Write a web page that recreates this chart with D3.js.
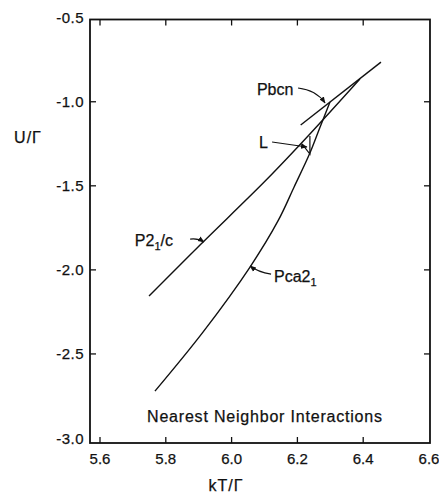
<!DOCTYPE html>
<html>
<head>
<meta charset="utf-8">
<script src="https://cdn.jsdelivr.net/npm/d3@7"></script>
<style>
  body { margin: 0; background: #fff; }
  svg { display: block; }
  .lbl { font-family: "Liberation Sans", Arial, sans-serif; fill: #111; stroke: #111; stroke-width: 0.25px; }
</style>
</head>
<body>
<div id="chart"></div>
<script>
// data: kT/Gamma vs U/Gamma
var xTicks = [5.6, 5.8, 6.0, 6.2, 6.4, 6.6];
var yTicks = [-0.5, -1.0, -1.5, -2.0, -2.5, -3.0];

var p21cT = [5.749, 5.904, 6.105, 6.238, 6.390];
var p21cU = [-2.156, -1.852, -1.466, -1.192, -0.865];

var pca21T = [5.767, 5.913, 6.056, 6.141, 6.190, 6.238, 6.269, 6.299];
var pca21U = [-2.721, -2.370, -1.983, -1.709, -1.507, -1.305, -1.150, -1.002];

var pbcnT = [6.210, 6.454];
var pbcnU = [-1.138, -0.764];

var liqT = [6.214, 6.238, 6.238];
var liqU = [-1.251, -1.311, -1.204];

function zipSeries(ts, us) {
    return ts.map(function (t, i) { return [t, us[i]]; });
}

var width = 439, height = 496;

var svg = d3.select("#chart").append("svg")
    .attr("width", width)
    .attr("height", height);

var x = d3.scaleLinear().domain([5.6, 6.6]).range([100, 429]);
var y = d3.scaleLinear().domain([-3.0, -0.5]).range([438, 17.7]);

// frame a bit bigger than the tick range, like the original plot
var frame = {left: x(5.5696), right: x(6.603), top: 19.5, bottom: 443};

svg.append("defs").append("marker")
    .attr("id", "arrow")
    .attr("viewBox", "0 0 10 10")
    .attr("refX", 9).attr("refY", 5)
    .attr("markerWidth", 6).attr("markerHeight", 6)
    .attr("orient", "auto")
    .append("path")
    .attr("d", "M0,1 L10,5 L0,9 z")
    .attr("fill", "#111");

svg.append("rect")
    .attr("x", frame.left).attr("y", frame.top)
    .attr("width", frame.right - frame.left)
    .attr("height", frame.bottom - frame.top)
    .attr("fill", "none")
    .attr("stroke", "#111")
    .attr("stroke-width", 1.8);

//axes: ticks pointing inward on all four sides
var tickLen = 6;
var g = svg.append("g").attr("stroke", "#111").attr("stroke-width", 1.3);

xTicks.slice(0, -1).forEach(function (t) {
    g.append("line").attr("x1", x(t)).attr("x2", x(t))
        .attr("y1", frame.bottom).attr("y2", frame.bottom - tickLen);
    g.append("line").attr("x1", x(t)).attr("x2", x(t))
        .attr("y1", frame.top).attr("y2", frame.top + tickLen);
});
yTicks.slice(1, -1).forEach(function (u) {
    g.append("line").attr("x1", frame.left).attr("x2", frame.left + tickLen)
        .attr("y1", y(u)).attr("y2", y(u));
    g.append("line").attr("x1", frame.right).attr("x2", frame.right - tickLen)
        .attr("y1", y(u)).attr("y2", y(u));
});

svg.selectAll(".xlab").data(xTicks).enter()
    .append("text")
    .attr("class", "lbl")
    .attr("x", function (d) { return x(d); })
    .attr("y", 464)
    .attr("text-anchor", "middle")
    .style("font-size", "15px")
    .text(function (d) { return d.toFixed(1); });

svg.selectAll(".ylab").data(yTicks).enter()
    .append("text")
    .attr("class", "lbl")
    .attr("x", 84)
    .attr("y", function (d) { return y(d) + 5.5; })
    .attr("text-anchor", "end")
    .style("font-size", "15px")
    .style("letter-spacing", "0.5px")
    .text(function (d) { return d.toFixed(1); });

svg.append("text").attr("class", "lbl")
    .attr("x", 28).attr("y", 143)
    .attr("text-anchor", "middle")
    .style("font-size", "16px")
    .style("letter-spacing", "1px")
    .text("U/\u0393");

svg.append("text").attr("class", "lbl")
    .attr("x", 226).attr("y", 491)
    .attr("text-anchor", "middle")
    .style("font-size", "16px")
    .style("letter-spacing", "1px")
    .text("kT/\u0393");

// curves
var line = d3.line()
    .x(function (d) { return x(d[0]); })
    .y(function (d) { return y(d[1]); })
    .curve(d3.curveCatmullRom);

var series = [
    zipSeries(p21cT, p21cU),
    zipSeries(pca21T, pca21U),
    zipSeries(pbcnT, pbcnU)
];

svg.selectAll(".curve").data(series).enter()
    .append("path")
    .attr("d", line)
    .attr("fill", "none")
    .attr("stroke", "#111")
    .attr("stroke-width", 1.4);

svg.append("path")
    .attr("d", d3.line().x(function (d) { return x(d[0]); }).y(function (d) { return y(d[1]); })(zipSeries(liqT, liqU)))
    .attr("fill", "none")
    .attr("stroke", "#111")
    .attr("stroke-width", 1.2);

// labels with their little pointer arrows
function label(t, u, parts) {
    var txt = svg.append("text").attr("class", "lbl")
        .attr("x", x(t)).attr("y", y(u))
        .style("font-size", "16px");
    var shift = 0;
    parts.forEach(function (p) {
        var want = p.sub ? 4 : 0;
        txt.append("tspan")
            .attr("dy", want - shift)
            .style("font-size", p.sub ? "11px" : "16px")
            .text(p.s);
        shift = want;
    });
}

function pointer(pts) {
    var path = d3.path();
    path.moveTo(x(pts[0][0]), y(pts[0][1]));
    if (pts.length == 3) {
        path.quadraticCurveTo(x(pts[1][0]), y(pts[1][1]), x(pts[2][0]), y(pts[2][1]));
    } else {
        path.lineTo(x(pts[1][0]), y(pts[1][1]));
    }
    svg.append("path")
        .attr("d", path.toString())
        .attr("fill", "none")
        .attr("stroke", "#111")
        .attr("stroke-width", 1.1)
        .attr("marker-end", "url(#arrow)");
}

label(6.077, -0.960, [{s: "Pbcn"}]);
pointer([[6.202, -0.918], [6.257, -0.930], [6.284, -1.007]]);

label(6.083, -1.275, [{s: "L"}]);
pointer([[6.123, -1.239], [6.229, -1.269]]);

label(5.706, -1.858, [{s: "P2"}, {s: "1", sub: true}, {s: "/c"}]);
pointer([[5.874, -1.817], [5.898, -1.811], [5.916, -1.834]]);

label(6.129, -2.072, [{s: "Pca2"}, {s: "1", sub: true}]);
pointer([[6.120, -2.025], [6.080, -2.013], [6.056, -1.977]]);

svg.append("text").attr("class", "lbl")
    .attr("x", x(5.743)).attr("y", y(-2.905))
    .style("font-size", "16px")
    .style("letter-spacing", "0.8px")
    .text("Nearest  Neighbor  Interactions");
</script>
</body>
</html>
